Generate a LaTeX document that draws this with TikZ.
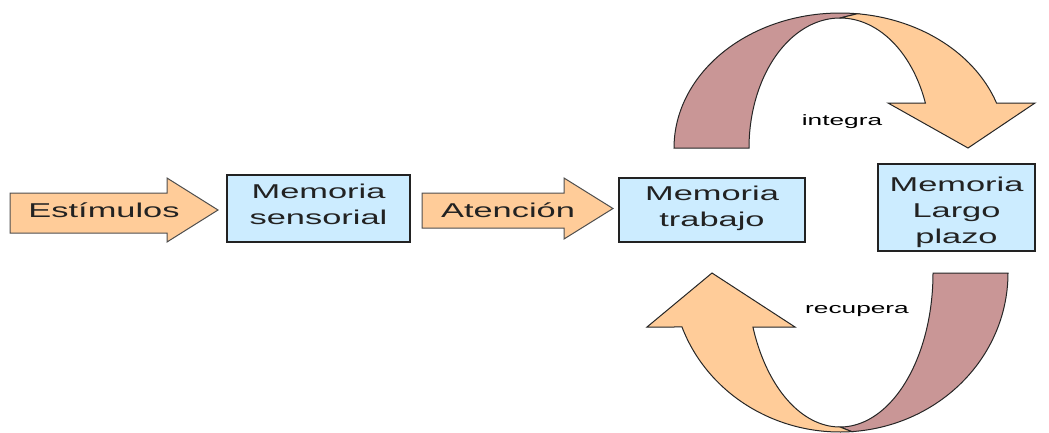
\documentclass[tikz,border=0pt]{standalone}
\usepackage{fontspec}
\newfontfamily\widefont[FakeStretch=1.72]{Liberation Sans}
\newfontfamily\widesmall[FakeStretch=1.75]{Liberation Sans}
\definecolor{boxblue}{HTML}{CCECFF}
\definecolor{peach}{HTML}{FFCC99}
\definecolor{rosebrown}{HTML}{C99696}
\definecolor{inkgray}{HTML}{222222}
\begin{document}
\begin{tikzpicture}[x=1pt,y=-1pt,
  membox/.style={draw=inkgray, fill=boxblue, line width=1.3pt, inner sep=0pt,
    align=center, text=inkgray, text depth=8pt,
    font=\widefont\fontsize{20}{26}\selectfont},
  blockarrow/.style={draw=inkgray!80, fill=peach, line width=1pt, line join=miter},
  band/.style={draw=black!85, line width=1pt, line join=miter},
  bigtext/.style={text=inkgray, anchor=base, inner sep=0pt,
    font=\widefont\fontsize{20}{26}\selectfont},
  smalltext/.style={text=black, anchor=base, inner sep=0pt,
    font=\widesmall\fontsize{15}{18}\selectfont}]

\path[use as bounding box] (0,0) rectangle (1049,432);

% memory stores
\node[membox, minimum width=183pt, minimum height=67pt] (sens) at (318.5,208.5) {Memoria\\sensorial};
\node[membox, minimum width=186pt, minimum height=64pt] (trab) at (712,210) {Memoria\\trabajo};
\node[membox, minimum width=157pt, minimum height=85pt, text height=79pt] (largo) at (956.5,207.5) {Memoria\\Largo\\plazo};

% block arrows feeding the stores
\filldraw[blockarrow] (10,193) -- (167,193) -- (167,178) -- (218,210) -- (167,242) -- (167,233) -- (10,233) -- cycle;
\node[bigtext] (estim) at (104,217) {Estímulos};

\filldraw[blockarrow] (422,193) -- (564,193) -- (564,178) -- (613,208.5) -- (564,239) -- (564,228) -- (422,228) -- cycle;
\node[bigtext] (atenc) at (508,217) {Atención};

% upper curved arrow: working memory -> long-term memory
\filldraw[band, fill=rosebrown]
  plot[domain=180:84, samples=60] ({840+166*cos(\x)},{148-135*sin(\x)})
  -- (840,18)
  -- plot[domain=90:180, samples=60] ({840+91*cos(\x)},{148-130*sin(\x)})
  -- cycle;
\filldraw[band, fill=peach]
  (840,18)
  -- plot[domain=84:19.47, samples=60] ({840+166*cos(\x)},{148-135*sin(\x)})
  -- (1035,103) -- (968,148) -- (888,103)
  -- plot[domain=20.25:90, samples=60] ({840+91*cos(\x)},{148-130*sin(\x)})
  -- cycle;
\node[smalltext] (integra) at (842,125) {integra};

% lower curved arrow: long-term memory -> working memory
\filldraw[band, fill=rosebrown]
  plot[domain=0:86, samples=60] ({840+168*cos(\x)},{273+159*sin(\x)})
  -- (840,427)
  -- plot[domain=90:0, samples=60] ({840+93*cos(\x)},{273+154*sin(\x)})
  -- cycle;
\filldraw[band, fill=peach]
  (840,427)
  -- plot[domain=86:160.15, samples=60] ({840+168*cos(\x)},{273+159*sin(\x)})
  -- (647,327) -- (712,273) -- (795,327)
  -- plot[domain=159.47:90, samples=60] ({840+93*cos(\x)},{273+154*sin(\x)})
  -- cycle;
\node[smalltext] (recupera) at (857,313) {recupera};

\end{tikzpicture}
\end{document}
